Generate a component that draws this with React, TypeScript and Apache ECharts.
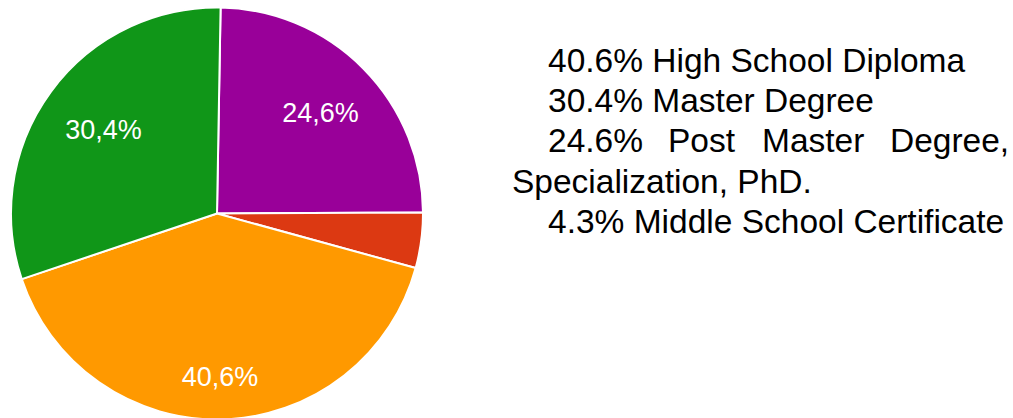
import React, { useEffect, useRef } from "react";
import * as echarts from "echarts";

// Respondent counts (69 total), in clockwise order from the top
const categories = [
  "Post Master Degree, Specialization, PhD.",
  "Middle School Certificate",
  "High School Diploma",
  "Master Degree",
];
const counts = [17, 3, 28, 21];
const colors = ["#990099", "#dc3912", "#ff9900", "#109618"];
const showSliceLabel = [true, false, true, true];

// legend order (as shown on the right)
const legendOrder = [2, 3, 0, 1];

// label offsets from ECharts' default inside anchor (style only)
const labelShift: [number, number][] = [
  [28, -26],
  [0, 0],
  [0, 58],
  [-28, -21],
];

const total = counts.reduce((a, b) => a + b, 0);
const pct = (i: number) => ((counts[i] / total) * 100).toFixed(1);

export default function App() {
  const ref = useRef<HTMLDivElement>(null);
  useEffect(() => {
    if (!ref.current) return;
    const chart = echarts.init(ref.current, null, { renderer: "svg" });

    const font = "'Liberation Sans', Arial, Helvetica, sans-serif";
    const fs = 33.5;
    const x0 = 548;
    const graphics: any[] = [];
    const lineY = [60, 100, 140, 181, 221];
    const l1 = legendOrder[0];
    const l2 = legendOrder[1];
    const l3 = legendOrder[2];
    const l4 = legendOrder[3];
    const mk = (text: string, x: number, y: number) => ({
      type: "text",
      x,
      y,
      silent: true,
      style: { text, font: `${fs}px ${font}`, fill: "#000", verticalAlign: "middle", align: "left" },
    });
    graphics.push(mk(`${pct(l1)}% ${categories[l1]}`, x0, lineY[0]));
    graphics.push(mk(`${pct(l2)}% ${categories[l2]}`, x0, lineY[1]));
    // justified line 3
    const words3 = [`${pct(l3)}%`, "Post", "Master", "Degree,"];
    const wordX = [548, 668, 762, 890];
    words3.forEach((w, i) => graphics.push(mk(w, wordX[i], lineY[2])));
    graphics.push(mk("Specialization, PhD.", 512, lineY[3]));
    graphics.push(mk(`${pct(l4)}% ${categories[l4]}`, x0, lineY[4]));

    chart.setOption({
      animation: false,
      graphic: graphics,
      series: [
        {
          type: "pie",
          center: [217, 213.5],
          radius: [0, 206],
          startAngle: 89,
          clockwise: true,
          silent: true,
          emphasis: { disabled: true },
          itemStyle: { borderColor: "#fff", borderWidth: 2 },
          label: {
            show: true,
            position: "inside",
            color: "#fff",
            fontSize: 27,
            fontFamily: font,
            formatter: (p: any) => `${((p.value / total) * 100).toFixed(1).replace(".", ",")}%`,
          },
          labelLine: { show: false },
          labelLayout: (p: any) => {
            const s = labelShift[p.dataIndex];
            return { dx: s[0], dy: s[1] };
          },
          data: counts.map((v, i) => ({
            name: categories[i],
            value: v,
            itemStyle: { color: colors[i] },
            label: { show: showSliceLabel[i] },
          })),
        },
      ],
    });
    return () => chart.dispose();
  }, []);
  return (
    <div
      ref={ref}
      style={{ position: "absolute", left: 0, top: 0, width: 1013, height: 418 }}
    />
  );
}
